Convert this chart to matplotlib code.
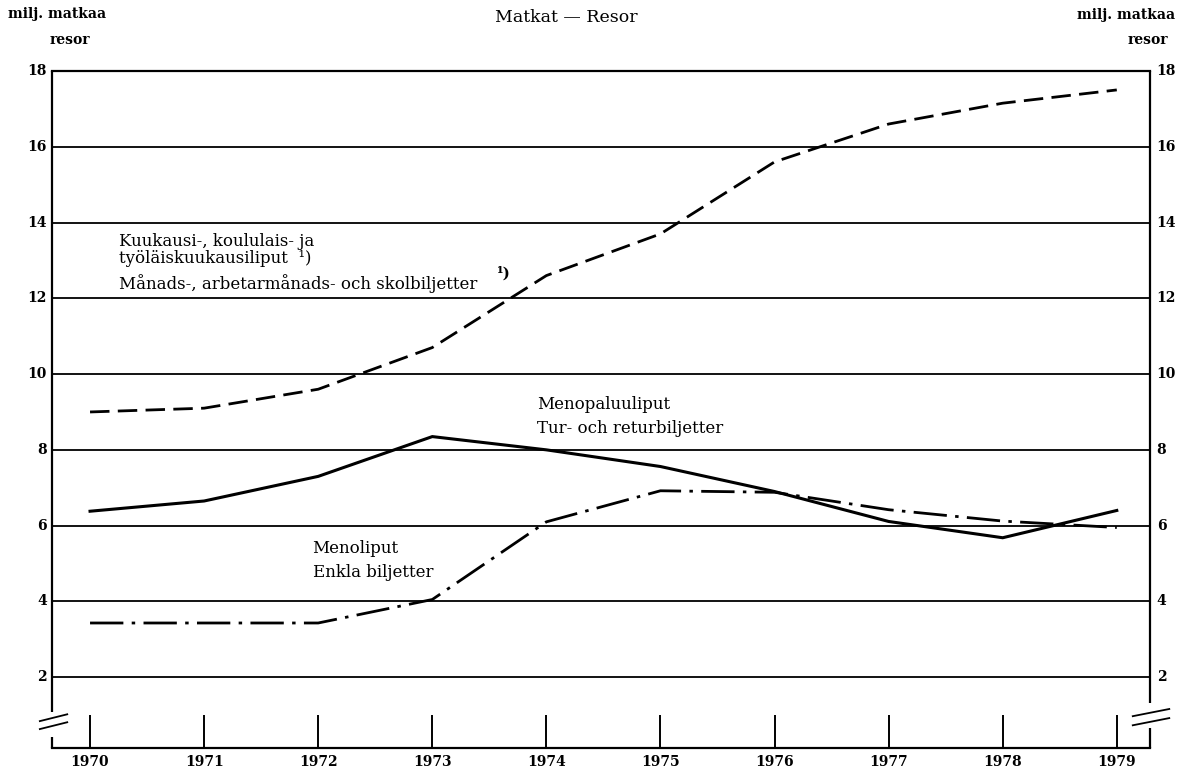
import numpy as np
import matplotlib
import matplotlib.pyplot as plt

matplotlib.use("agg")

plt.rcParams["font.family"] = ["DejaVu Serif"]
plt.rcParams["lines.scale_dashes"] = False

years = [1970, 1971, 1972, 1973, 1974, 1975, 1976, 1977, 1978, 1979]
# milj. matkaa / resor
monthly = [9.0, 9.1, 9.6, 10.7, 12.6, 13.7, 15.6, 16.6, 17.15, 17.5]
return_tickets = [6.38, 6.65, 7.3, 8.35, 8.0, 7.56, 6.9, 6.11, 5.68, 6.4]
single = [3.43, 3.43, 3.43, 4.05, 6.1, 6.92, 6.88, 6.42, 6.12, 5.95]

y_ticks = [2, 4, 6, 8, 10, 12, 14, 16, 18]
grid_levels = [2, 4, 6, 8, 10, 12, 14, 16]

fig = plt.figure(figsize=(11.83, 7.80), dpi=100)
ax = fig.add_axes([0.044, 0.041, 0.928, 0.868])

ax.set_xlim(1969.667, 1979.29)
ax.set_ylim(0.13, 18)

# grid
ax.hlines(grid_levels, 1969.667, 1979.29, color="black", lw=1.3)
# year ticks
ax.vlines(years, 0.13, 1.0, color="black", lw=1.4)

ax.plot(years, monthly, color="black", lw=2.0, dashes=(14, 6))
ax.plot(years, return_tickets, color="black", lw=2.2, solid_joinstyle="miter")
ax.plot(years, single, color="black", lw=2.0, dashes=(24, 6, 2.5, 6))

# spines with axis break
for s in ["left", "right"]:
    ax.spines[s].set_visible(False)
ax.spines["top"].set_linewidth(1.6)
ax.spines["bottom"].set_linewidth(1.6)
kw = dict(color="black", lw=1.6, clip_on=False, solid_capstyle="butt")
ax.plot([1969.667, 1969.667], [1.08, 18], **kw)
ax.plot([1969.667, 1969.667], [0.13, 0.42], **kw)
ax.plot([1979.29, 1979.29], [1.31, 18], **kw)
ax.plot([1979.29, 1979.29], [0.13, 0.65], **kw)
bk = dict(color="black", lw=1.3, clip_on=False)
ax.plot([1969.56, 1969.80], [0.84, 1.02], **bk)
ax.plot([1969.56, 1969.80], [0.63, 0.81], **bk)
ax.plot([1979.14, 1979.46], [0.97, 1.16], **bk)
ax.plot([1979.14, 1979.46], [0.73, 0.92], **bk)

ax.set_xticks([])
ax.set_yticks([])
for v in y_ticks:
    ax.text(1969.62, v, str(v), ha="right", va="center", fontsize=10, fontweight="bold")
    ax.text(1979.35, v, str(v), ha="left", va="center", fontsize=10, fontweight="bold")
for yr in years:
    ax.text(yr, -0.05, str(yr), ha="center", va="top", fontsize=10, fontweight="bold")

tk = dict(fontsize=12, ha="left", va="center")
ax.text(1970.25, 13.5, "Kuukausi-, koululais- ja", **tk)
ax.text(1970.25, 13.05, "työläiskuukausiliput  ¹)", **tk)
ax.text(1970.25, 12.4, "Månads-, arbetarmånads- och skolbiljetter", **tk)
ax.text(1973.57, 12.66, "¹)", fontsize=11, ha="left", va="center", fontweight="bold")
ax.text(1973.92, 9.2, "Menopaluuliput", **tk)
ax.text(1973.92, 8.57, "Tur- och returbiljetter", **tk)
ax.text(1971.95, 5.4, "Menoliput", **tk)
ax.text(1971.95, 4.77, "Enkla biljetter", **tk)

fig.text(566 / 1183, 1 - 17 / 780, "Matkat — Resor", ha="center", va="center", fontsize=12.5)
fig.text(8 / 1183, 1 - 14 / 780, "milj. matkaa", ha="left", va="center", fontsize=10, fontweight="bold")
fig.text(50 / 1183, 1 - 40 / 780, "resor", ha="left", va="center", fontsize=10, fontweight="bold")
fig.text(1175 / 1183, 1 - 15 / 780, "milj. matkaa", ha="right", va="center", fontsize=10, fontweight="bold")
fig.text(1168 / 1183, 1 - 40 / 780, "resor", ha="right", va="center", fontsize=10, fontweight="bold")

fig.savefig("out.png", dpi=100)
